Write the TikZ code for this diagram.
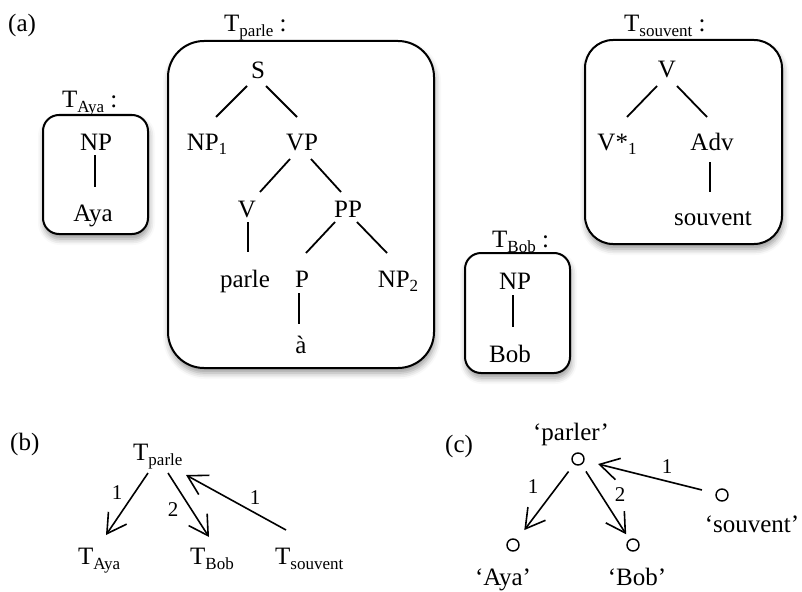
\documentclass[tikz,border=0pt]{standalone}
\usepackage{fontspec}
\setmainfont{Liberation Serif}
\usetikzlibrary{calc,arrows.meta,shadows.blur}
\newcommand{\sbx}[1]{\raisebox{-5pt}{\fontsize{17}{17}\selectfont #1}}
\newcommand{\sbn}[1]{\raisebox{-4pt}{\fontsize{17}{17}\selectfont #1}}
\tikzset{
  txt/.style={font=\fontsize{25}{29}\selectfont, inner sep=0pt, anchor=base},
  lbl/.style={font=\fontsize{25}{29}\selectfont, inner sep=0pt, anchor=base west},
  num/.style={font=\fontsize{21}{25}\selectfont, inner sep=0pt},
  tl/.style={line width=1.8pt},
  treebox/.style={line width=2pt, fill=white,
    blur shadow={shadow xshift=1pt, shadow yshift=-5pt, shadow blur radius=6pt, shadow opacity=40}},
  arr/.style={line width=1.6pt, -{Straight Barb[length=19pt,width=22pt,line width=1.6pt]}},
  dot/.style={circle, draw, line width=1.4pt, minimum size=12pt, inner sep=0pt},
}
\begin{document}
\begin{tikzpicture}[x=1pt,y=-1pt]
\useasboundingbox (0,0) rectangle (802,591);

% ---------- (a) ----------
\node[lbl] (la) at (8,32) {(a)};

% T_Aya
\draw[treebox, rounded corners=16pt] (43,115) rectangle (148,234);
\node[lbl] (tAya) at (62,108) {T\sbx{Aya} :};
\node[txt] (aNP) at (96,150) {NP};
\node[txt] (aAya) at (93,221) {Aya};
\draw[tl] ($(aNP.base)+(-1,5)$) -- ($(aAya.base)+(2,-34)$);

% T_parle
\draw[treebox, rounded corners=36pt] (168,41) rectangle (434,368);
\node[lbl] (tParle) at (224,32) {T\sbx{parle} :};
\node[txt] (pS) at (258,79) {S};
\node[txt] (pNP1) at (207,150) {NP\sbn{1}};
\node[txt] (pVP) at (302,150) {VP};
\node[txt] (pV) at (247,217) {V};
\node[txt] (pPP) at (348,217) {PP};
\node[txt] (pparle) at (245,287) {parle};
\node[txt] (pP) at (302,287) {P};
\node[txt] (pNP2) at (398,287) {NP\sbn{2}};
\node[txt] (pa) at (301,353) {à};
\draw[tl] ($(pS.base)+(-11,7)$) -- ($(pNP1.base)+(9,-33)$);
\draw[tl] ($(pS.base)+(8,7)$) -- ($(pVP.base)+(-5,-33)$);
\draw[tl] ($(pVP.base)+(-12,9)$) -- ($(pV.base)+(13,-25)$);
\draw[tl] ($(pVP.base)+(9,9)$) -- ($(pPP.base)+(-7,-25)$);
\draw[tl] ($(pV.base)+(1,5)$) -- ($(pparle.base)+(3,-35)$);
\draw[tl] ($(pPP.base)+(-13,5)$) -- ($(pP.base)+(4,-34)$);
\draw[tl] ($(pPP.base)+(9,5)$) -- ($(pNP2.base)+(-11,-34)$);
\draw[tl] ($(pP.base)+(-3,6)$) -- ($(pa.base)+(-2,-29)$);

% T_Bob
\draw[treebox, rounded corners=16pt] (465,253) rectangle (570,373);
\node[lbl] (tBob) at (492,247) {T\sbx{Bob} :};
\node[txt] (bNP) at (515,289) {NP};
\node[txt] (bBob) at (510,362) {Bob};
\draw[tl] ($(bNP.base)+(-2,6)$) -- ($(bBob.base)+(3,-35)$);

% T_souvent
\draw[treebox, rounded corners=28pt] (585,40) rectangle (782,244);
\node[lbl] (tSouv) at (624,32) {T\sbx{souvent} :};
\node[txt] (sV) at (667,78) {V};
\node[txt] (sVs) at (617,150) {V*\sbn{1}};
\node[txt] (sAdv) at (712,150) {Adv};
\node[txt] (ssouv) at (713,225) {souvent};
\draw[tl] ($(sV.base)+(-10,8)$) -- ($(sVs.base)+(10,-33)$);
\draw[tl] ($(sV.base)+(10,8)$) -- ($(sAdv.base)+(-5,-33)$);
\draw[tl] ($(sAdv.base)+(-2,12)$) -- ($(ssouv.base)+(-3,-33)$);

% ---------- (b) ----------
\node[lbl] (lb) at (10,450) {(b)};
\node[lbl] (bTp) at (133,460) {T\sbx{parle}};
\node[lbl] (bTA) at (78,564) {T\sbx{Aya}};
\node[lbl] (bTB) at (190,564) {T\sbx{Bob}};
\node[lbl] (bTS) at (275,564) {T\sbx{souvent}};
\draw[arr] ($(bTp.base west)+(15,13)$) -- ($(bTA.base west)+(28,-29)$);
\draw[arr] ($(bTp.base west)+(35,13)$) -- ($(bTB.base west)+(19,-27)$);
\draw[arr] ($(bTS.base west)+(11,-34)$) -- ($(bTp.base west)+(53,15)$);
\node[num] (bn1) at (117,493) {1};
\node[num] (bn2) at (173,510) {2};
\node[num] (bn3) at (255,498) {1};

% ---------- (c) ----------
\node[lbl] (lc) at (445,452) {(c)};
\node[dot] (cP) at (578,459) {};
\node[dot] (cA) at (513,545) {};
\node[dot] (cB) at (633,545) {};
\node[dot] (cS) at (722,495) {};
\node[txt] (cPt) at (571,440) {‘parler’};
\node[txt] (cAt) at (503,585) {‘Aya’};
\node[txt] (cBt) at (637,585) {‘Bob’};
\node[txt] (cSt) at (752,532) {‘souvent’};
\draw[arr, shorten <=9pt, shorten >=12pt] (cP) -- (cA);
\draw[arr, shorten <=8pt, shorten >=6pt] (cP) -- (cB);
\draw[arr, shorten <=14pt, shorten >=14pt] (cS) -- (cP);
\node[num] (cn1) at (533,487) {1};
\node[num] (cn2) at (620,495) {2};
\node[num] (cn3) at (667,467) {1};
\end{tikzpicture}
\end{document}
